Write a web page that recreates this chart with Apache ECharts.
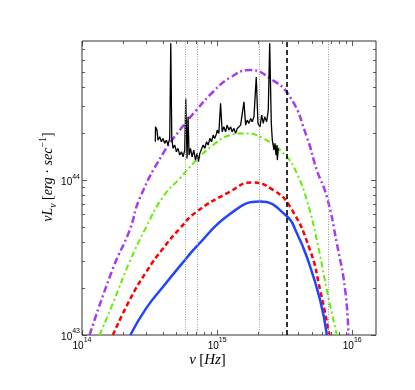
<!DOCTYPE html>
<html>
<head>
<meta charset="utf-8" />
<title>disk spectrum</title>
<script src="https://cdn.jsdelivr.net/npm/echarts@6/dist/echarts.min.js"></script>
</head>
<body style="margin:0;background:#fff;">
<div id="main" style="width:415px;height:390px;"></div>
<script>
// observed spectrum (nu in Hz, nuL_nu in erg/s)
var specNu = [3.49e14, 3.50e14, 3.59e14, 3.65e14, 3.76e14, 3.87e14, 3.98e14, 4.09e14, 4.22e14, 4.33e14,
    4.46e14, 4.54e14, 4.62e14, 4.72e14, 4.86e14, 5.00e14, 5.14e14, 5.29e14, 5.45e14, 5.60e14,
    5.76e14, 5.86e14, 5.99e14, 6.10e14, 6.20e14, 6.35e14, 6.53e14, 6.72e14, 6.92e14, 7.11e14,
    7.28e14, 7.45e14, 7.66e14, 7.88e14, 8.11e14, 8.35e14, 8.58e14, 8.84e14, 9.09e14, 9.35e14,
    9.62e14, 9.91e14, 1.001e15, 1.030e15, 1.061e15, 1.090e15, 1.122e15, 1.155e15, 1.187e15, 1.222e15,
    1.258e15, 1.293e15, 1.331e15, 1.371e15, 1.409e15, 1.450e15, 1.493e15, 1.535e15, 1.580e15, 1.626e15,
    1.671e15, 1.720e15, 1.771e15, 1.820e15, 1.874e15, 1.949e15, 2.006e15, 2.076e15, 2.138e15, 2.196e15,
    2.250e15, 2.328e15, 2.392e15, 2.450e15, 2.518e15, 2.562e15, 2.637e15, 2.683e15, 2.729e15, 2.776e15,
    2.791e15, 2.839e15];
var specL = [1.767e44, 2.207e44, 2.101e44, 1.812e44, 1.903e44, 1.767e44, 1.858e44, 1.725e44, 1.812e44, 1.682e44,
    1.858e44, 7.65e44, 1.858e44, 1.602e44, 1.682e44, 1.523e44, 1.602e44, 1.450e44, 1.523e44, 1.413e44,
    1.561e44, 3.366e44, 1.380e44, 2.561e44, 1.450e44, 1.602e44, 1.413e44, 1.561e44, 1.346e44, 1.487e44,
    1.313e44, 1.487e44, 1.450e44, 1.682e44, 1.602e44, 1.767e44, 1.682e44, 1.858e44, 1.767e44, 1.951e44,
    1.858e44, 2.001e44, 2.101e44, 2.001e44, 3.125e44, 2.049e44, 2.207e44, 2.049e44, 2.263e44, 2.101e44,
    2.207e44, 2.049e44, 2.155e44, 2.001e44, 2.155e44, 2.101e44, 2.263e44, 2.207e44, 3.201e44, 2.263e44,
    2.439e44, 2.322e44, 2.501e44, 2.378e44, 2.561e44, 4.62e44, 2.322e44, 2.207e44, 2.627e44, 2.322e44,
    2.561e44, 2.378e44, 2.829e44, 7.65e44, 2.322e44, 1.812e44, 1.561e44, 1.725e44, 1.450e44, 1.682e44,
    1.346e44, 1.602e44];

// model curves
var blueNu = [2.28e14, 2.99e14, 3.98e14, 5.93e14, 7.03e14, 1.245e15, 2.075e15, 3.27e15, 3.89e15, 4.61e15, 5.79e15, 6.49e15];
var blueL = [1.0e43, 1.49e43, 2.05e43, 3.13e43, 3.72e43, 6.04e43, 7.26e43, 5.86e43, 4.55e43, 3.20e43, 1.68e43, 1.0e43];

var redNu = [1.694e14, 2.254e14, 2.992e14, 3.98e14, 5.30e14, 7.03e14, 1.245e15, 1.803e15, 2.606e15, 3.467e15, 4.875e15, 5.79e15, 6.79e15];
var redL = [1.0e43, 1.683e43, 2.559e43, 3.622e43, 4.875e43, 6.237e43, 8.414e43, 9.66e43, 8.61e43, 6.73e43, 3.53e43, 1.95e43, 1.0e43];

var greenNu = [1.349e14, 1.694e14, 2.254e14, 2.992e14, 3.98e14, 5.30e14, 7.03e14, 9.35e14, 1.245e15, 1.560e15, 2.198e15, 3.27e15, 3.89e15, 4.61e15, 5.47e15, 6.49e15, 7.69e15];
var greenL = [1.0e43, 1.603e43, 2.972e43, 5.0e43, 7.80e43, 1.026e44, 1.346e44, 1.683e44, 1.950e44, 2.0e44, 1.858e44, 1.413e44, 1.104e44, 7.43e43, 4.10e43, 1.95e43, 1.0e43];

var purpleNu = [1.138e14, 1.694e14, 2.254e14, 2.673e14, 3.98e14, 5.30e14, 7.03e14, 9.35e14, 1.245e15, 1.750e15, 2.466e15, 3.467e15, 4.61e15, 5.47e15, 6.49e15, 7.69e15, 8.87e15, 9.38e15];
var purpleL = [1.0e43, 2.69e43, 4.75e43, 7.62e43, 1.486e44, 2.104e44, 2.831e44, 3.715e44, 4.58e44, 5.13e44, 4.53e44, 3.44e44, 1.901e44, 1.161e44, 7.80e43, 3.91e43, 1.95e43, 1.0e43];

// vertical markers
var dottedNu = [5.86e14, 7.1e14, 2.05e15, 6.6e15];
var lymanNu = 3.29e15;

// ticks
var xMajor = [1e14, 1e15, 1e16];
var xMinor = [2e14, 3e14, 4e14, 5e14, 6e14, 7e14, 8e14, 9e14, 2e15, 3e15, 4e15, 5e15, 6e15, 7e15, 8e15, 9e15];
var yMajor = [1e43, 1e44];
var yMinor = [2e43, 3e43, 4e43, 5e43, 6e43, 7e43, 8e43, 9e43, 2e44, 3e44, 4e44, 5e44, 6e44, 7e44];

var xMin = 1e14, xMax = 1.5e16, yMin = 1e43, yMax = 7.9e44;

function pairs(a, b) {
    return a.map(function (v, i) { return [v, b[i]]; });
}

var xTickData = xMajor.map(function (v) { return [v, yMin, 1]; })
    .concat(xMinor.map(function (v) { return [v, yMin, 0]; }));
var yTickData = yMajor.map(function (v) { return [xMin, v, 1]; })
    .concat(yMinor.map(function (v) { return [xMin, v, 0]; }));

var tickStyle = { stroke: '#333', lineWidth: 0.8 };

function renderXTick(params, api) {
    var cs = params.coordSys;
    var x = Math.round(api.coord([api.value(0), yMin])[0]) + 0.5;
    var len = api.value(2) ? 5 : 3;
    return {
        type: 'group',
        children: [
            { type: 'line', shape: { x1: x, y1: cs.y + cs.height, x2: x, y2: cs.y + cs.height - len }, style: tickStyle },
            { type: 'line', shape: { x1: x, y1: cs.y, x2: x, y2: cs.y + len }, style: tickStyle }
        ]
    };
}

function renderYTick(params, api) {
    var cs = params.coordSys;
    var y = Math.round(api.coord([xMin, api.value(1)])[1]) + 0.5;
    var len = api.value(2) ? 5 : 3;
    return {
        type: 'group',
        children: [
            { type: 'line', shape: { x1: cs.x, y1: y, x2: cs.x + len, y2: y }, style: tickStyle },
            { type: 'line', shape: { x1: cs.x + cs.width, y1: y, x2: cs.x + cs.width - len, y2: y }, style: tickStyle }
        ]
    };
}

function powLabel(v) {
    return '{b|10}{s|' + Math.round(Math.log10(v)) + '}';
}

var labelRich = {
    b: { fontSize: 10, fontFamily: 'Liberation Sans', color: '#000', verticalAlign: 'bottom', lineHeight: 14 },
    s: { fontSize: 7, fontFamily: 'Liberation Sans', color: '#000', verticalAlign: 'top', lineHeight: 14 }
};

var chart = echarts.init(document.getElementById('main'));

var option = {
    backgroundColor: '#fff',
    animation: false,
    grid: { left: 82, right: 39, top: 41, bottom: 55, show: true, borderColor: '#333', borderWidth: 1 },
    xAxis: {
        type: 'log', min: xMin, max: xMax, logBase: 10,
        axisLine: { show: false }, axisTick: { show: false }, splitLine: { show: false },
        axisLabel: { formatter: powLabel, rich: labelRich, margin: 2, showMaxLabel: false }
    },
    yAxis: {
        type: 'log', min: yMin, max: yMax, logBase: 10,
        axisLine: { show: false }, axisTick: { show: false }, splitLine: { show: false },
        axisLabel: { formatter: powLabel, rich: labelRich, margin: 2, showMaxLabel: false }
    },
    graphic: [
        {
            type: 'text', left: 'center', x: 229, top: 353,
            style: {
                text: '{i|ν} {n|[}{i|Hz}{n|]}',
                rich: {
                    i: { fontSize: 15, fontFamily: 'Liberation Serif', fontStyle: 'italic', fill: '#000' },
                    n: { fontSize: 15, fontFamily: 'Liberation Serif', fill: '#000' }
                }
            }
        },
        {
            type: 'text', x: 48, y: 177, rotation: Math.PI / 2,
            style: {
                text: '{i|νL}{sb|ν} {n|[}{i|erg}{n| · }{i|sec}{sp|−1}{n|]}',
                align: 'center', verticalAlign: 'middle',
                rich: {
                    i: { fontSize: 14, fontFamily: 'Liberation Serif', fontStyle: 'italic', fill: '#000', verticalAlign: 'middle', lineHeight: 20 },
                    n: { fontSize: 14, fontFamily: 'Liberation Serif', fill: '#000', verticalAlign: 'middle', lineHeight: 20 },
                    sb: { fontSize: 10, fontFamily: 'Liberation Serif', fontStyle: 'italic', fill: '#000', verticalAlign: 'bottom', lineHeight: 20 },
                    sp: { fontSize: 10, fontFamily: 'Liberation Serif', fill: '#000', verticalAlign: 'top', lineHeight: 20 }
                }
            }
        }
    ],
    series: [
        {
            type: 'line', name: 'purple', data: pairs(purpleNu, purpleL), showSymbol: false, smooth: 0.5,
            lineStyle: { color: '#a33cf5', width: 2.5, type: [7, 3, 2, 3] },
            markLine: {
                silent: true, symbol: ['none', 'none'], label: { show: false },
                data: dottedNu.map(function (v) {
                    return { xAxis: v, lineStyle: { color: '#999', width: 1, type: [1, 1.5] } };
                }).concat([{ xAxis: lymanNu, lineStyle: { color: '#000', width: 1.6, type: [5, 3] } }])
            }
        },
        {
            type: 'line', name: 'green', data: pairs(greenNu, greenL), showSymbol: false, smooth: 0.5,
            lineStyle: { color: '#66ee00', width: 2, type: [6, 3, 2, 3] }
        },
        {
            type: 'line', name: 'red', data: pairs(redNu, redL), showSymbol: false, smooth: 0.5,
            lineStyle: { color: '#ff0000', width: 2.5, type: [5, 3] }
        },
        {
            type: 'line', name: 'blue', data: pairs(blueNu, blueL), showSymbol: false, smooth: 0.5,
            lineStyle: { color: '#2244ff', width: 2.5, type: 'solid' }
        },
        {
            type: 'line', name: 'spectrum', data: pairs(specNu, specL), showSymbol: false,
            lineStyle: { color: '#000', width: 1.3 }
        },
        { type: 'custom', renderItem: renderXTick, data: xTickData, silent: true, z: 10 },
        { type: 'custom', renderItem: renderYTick, data: yTickData, silent: true, z: 10 }
    ]
};

chart.setOption(option);
</script>
</body>
</html>
